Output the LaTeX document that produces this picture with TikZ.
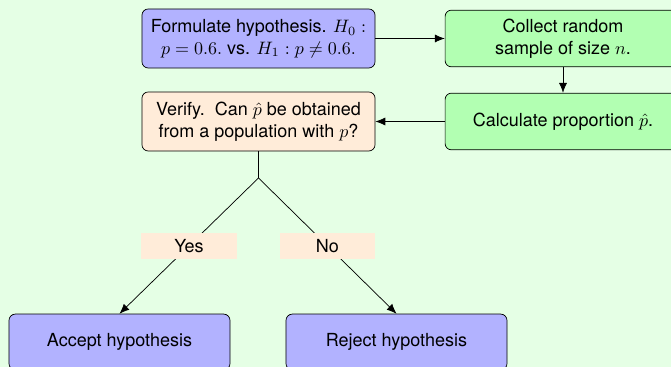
\documentclass[tikz,border=0pt]{standalone}
\usepackage{amsmath}
\usepackage[no-math]{fontspec}
\setmainfont{TeX Gyre Heros}
\usepackage{tikz}
\usetikzlibrary{shapes,arrows,arrows.meta,positioning}
\tikzstyle{caja} = [draw=black, rectangle, rounded corners=3.5pt, align=center, inner sep=3pt]
\tikzstyle{hipotesis} = [caja, fill=blue!30, minimum width=129.5pt, minimum height=32.8pt]
\tikzstyle{muestra} = [caja, fill=green!30, minimum width=131pt, minimum height=31.5pt]
\tikzstyle{verifica} = [caja, fill=orange!15, minimum width=129.5pt, minimum height=32.8pt]
\tikzstyle{decision} = [caja, fill=blue!30, minimum width=122.8pt, minimum height=31pt]
\tikzstyle{etiqueta} = [fill=orange!15, minimum width=53pt, minimum height=14.4pt, inner sep=0pt]
\tikzstyle{flecha} = [draw, -{Latex[length=5.5pt,width=4.5pt]}]

\begin{document}
\begin{tikzpicture}[x=0.5556pt, y=-0.5556pt]
					\fill[green!10] (0,0) rectangle (671,367);
					\useasboundingbox (0,0) rectangle (671,367);
					\node [hipotesis] (hyp) at (258.5,38.5) {Formulate hypothesis. $H_0:$\\ $p=0.6.$ vs. $H_1: p\neq 0.6.$};
					\node [muestra] (sample) at (563,38.5) {Collect random\\ sample of size $n$.};
					\node [muestra] (prop) at (563,121.5) {Calculate proportion $\hat{p}$.};
					\node [verifica] (verify) at (258.5,121.5) {Verify.\ \ Can $\hat{p}$ be obtained\\ from a population with $p$?};
					\coordinate (branch) at (258.5,178);
					\node [decision] (accept) at (119.5,342) {Accept hypothesis};
					\node [decision] (reject) at (396.5,342) {Reject hypothesis};
					% conexiones
					\path [flecha] (hyp) -- (sample);
					\path [flecha] (sample) -- (prop);
					\path [flecha] (prop) -- (verify);
					\draw (verify) -- (branch);
					\path [flecha] (branch) -- node[etiqueta] {Yes} (accept.north);
					\path [flecha] (branch) -- node[etiqueta] {No} (reject.north);
\end{tikzpicture}
\end{document}
